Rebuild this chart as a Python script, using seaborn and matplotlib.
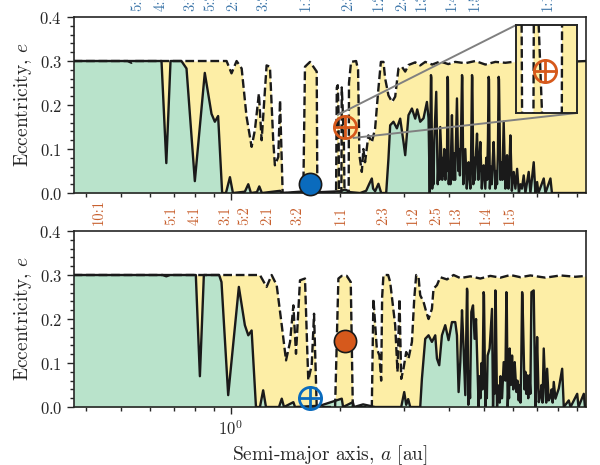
import numpy as np
import matplotlib
matplotlib.use("Agg")
import matplotlib.pyplot as plt
import seaborn as sns
from matplotlib.ticker import MultipleLocator, NullLocator
from mpl_toolkits.axes_grid1.inset_locator import mark_inset

# planets: semi-major axis [au], eccentricity
A_INNER, E_INNER = 1.661, 0.02
A_OUTER, E_OUTER = 2.063, 0.15

# mean-motion resonances (period ratio p:q)
RESONANCES = ["10:1", "5:1", "4:1", "3:1", "5:2", "2:1", "3:2", "1:1",
              "2:3", "1:2", "2:5", "1:3", "1:4", "1:5", "1:10"]

# stability maps, (a [au], e) -- solid: stable limit, dashed: upper limit
TOP_SOLID = [
    (0.369, .300), (0.645, .300), (0.665, .068), (0.683, .300), (0.732, .300),
    (0.756, .283), (0.797, .027), (0.849, .273), (0.886, .180), (0.905, .162),
    (0.924, .175), (0.948, 0), (0.971, 0), (0.996, .036), (1.015, 0),
    (1.095, .003), (1.119, .020), (1.138, 0), (1.182, .002), (1.200, .015),
    (1.220, 0), (1.369, .005), (1.386, 0), (1.554, .003), (1.765, .002),
    (2.004, .004), (2.069, .008), (2.136, .002), (2.276, 0), (2.365, .005),
    (2.410, .020), (2.452, .033), (2.472, .010), (2.504, .004), (2.557, .021),
    (2.602, 0), (2.686, 0), (2.725, .078), (2.755, .154), (2.813, .162),
    (2.875, .147), (2.936, .169), (2.998, .116), (3.031, .086), (3.095, .177),
    (3.163, .192), (3.230, .169), (3.271, .190), (3.334, .162), (3.405, .170),
    (3.479, .207), (3.515, .170), (3.542, 0), (3.569, .268), (3.578, .262),
    (3.598, .010), (3.615, .060), (3.628, .020), (3.645, .120), (3.691, .230),
    (3.726, .020), (3.745, .070), (3.765, .030), (3.786, .150), (3.834, .030),
    (3.855, .080), (3.870, .040), (3.884, .100), (3.910, .030), (3.930, .090),
    (3.950, .050), (3.966, .264), (3.975, .258), (3.996, .020), (4.020, .070),
    (4.040, .020), (4.060, .110), (4.078, .177), (4.112, .030), (4.140, .090),
    (4.160, .030), (4.185, .120), (4.210, .215), (4.245, .050), (4.270, .100),
    (4.290, .040), (4.320, .130), (4.347, .268), (4.357, .262), (4.383, .020),
    (4.410, .060), (4.439, .100), (4.481, .010), (4.505, .040), (4.533, .070),
    (4.583, .010), (4.600, .050), (4.632, .268), (4.642, .262), (4.671, .020),
    (4.700, .080), (4.720, .030), (4.750, .090), (4.782, .135), (4.822, .030),
    (4.850, .060), (4.883, .116), (4.930, .010), (4.955, .040), (4.987, .063),
    (5.041, .010), (5.070, .080), (5.100, .030), (5.125, .120), (5.148, .264),
    (5.160, .258), (5.187, .010), (5.220, .060), (5.250, .020), (5.280, .070),
    (5.314, .116), (5.372, .010), (5.400, .050), (5.430, .020), (5.460, .090),
    (5.486, .264), (5.498, .258), (5.546, .030), (5.580, .070), (5.620, .030),
    (5.664, .162), (5.725, .010), (5.755, .040), (5.787, .086), (5.835, .010),
    (5.870, .050), (5.910, .131), (5.966, .005), (6.000, .030), (6.036, .048),
    (6.101, .010), (6.130, .030), (6.168, .055), (6.239, 0), (6.300, .020),
    (6.360, .010), (6.432, .040), (6.501, 0), (6.639, .048), (6.712, 0),
    (6.854, .070), (6.928, 0), (7.004, .025), (7.062, 0), (7.304, .033),
    (7.383, 0), (7.622, .033), (7.694, 0), (9.58, 0),
]
TOP_DASHED = [
    (0.369, .300), (0.520, .300), (0.533, .296), (0.544, .300), (0.975, .300),
    (1.006, .272), (1.039, .300), (1.073, .283), (1.107, .173), (1.143, .105),
    (1.167, .143), (1.197, .226), (1.218, .120), (1.257, .290), (1.284, .287),
    (1.311, .120), (1.325, .063), (1.354, .082), (1.369, .211), (1.392, 0),
    (1.587, 0), (1.604, .287), (1.656, .298), (1.728, .276), (1.735, 0),
    (1.954, 0), (1.963, .240), (1.975, .245), (1.985, .180), (1.990, 0),
    (2.021, 0), (2.026, .240), (2.036, .200), (2.053, .120), (2.062, 0),
    (2.117, 0), (2.121, .250), (2.149, .298), (2.219, .300), (2.247, .280),
    (2.266, .086), (2.301, .048), (2.324, .100), (2.349, .070), (2.399, .131),
    (2.452, .115), (2.504, .147), (2.552, .230), (2.597, .298), (2.640, .298),
    (2.669, .260), (2.725, .222), (2.788, .207), (2.844, .219), (2.904, .283),
    (2.968, .287), (3.031, .276), (3.095, .291), (3.230, .297), (3.334, .290),
    (3.442, .298), (3.598, .292), (3.786, .299), (3.984, .293), (4.165, .298),
    (4.439, .295), (4.730, .300), (5.041, .292), (5.372, .298), (5.725, .296),
    (6.298, .300), (6.928, .297), (7.622, .300), (8.385, .298), (9.58, .300),
]
BOT_SOLID = [
    (0.369, .300), (0.802, .300), (0.823, .070), (0.844, .300), (0.930, .300),
    (0.944, .284), (0.985, .027), (1.054, .273), (1.095, .186), (1.119, .163),
    (1.143, .174), (1.175, 0), (1.205, 0), (1.230, .038), (1.252, 0),
    (1.360, 0), (1.384, .019), (1.404, 0), (1.490, .011), (1.506, 0),
    (1.765, .003), (2.026, .019), (2.043, 0), (2.173, .011), (2.191, 0),
    (2.320, .006), (2.504, 0), (2.955, 0), (3.012, .034), (3.050, .005),
    (3.089, .018), (3.129, 0), (3.334, 0), (3.370, .064), (3.442, .155),
    (3.515, .163), (3.591, .148), (3.668, .163), (3.708, .110), (3.762, .095),
    (3.827, .163), (3.908, .186), (3.991, .152), (4.078, .193), (4.165, .193),
    (4.210, .163), (4.254, .034), (4.300, .102), (4.347, .220), (4.383, .150),
    (4.439, .027), (4.487, .269), (4.497, .262), (4.525, .005), (4.550, .080),
    (4.575, .020), (4.595, .120), (4.612, .216), (4.662, .231), (4.709, .155),
    (4.752, .200), (4.831, 0), (4.860, .070), (4.890, .020), (4.920, .100),
    (4.950, .040), (4.987, .261), (4.998, .255), (5.041, 0), (5.070, .060),
    (5.090, .020), (5.115, .117), (5.180, .133), (5.259, .223), (5.294, 0),
    (5.320, .080), (5.345, .030), (5.372, .265), (5.384, .258), (5.430, 0),
    (5.455, .030), (5.486, .049), (5.520, .010), (5.550, .070), (5.580, .020),
    (5.606, .020), (5.664, .102), (5.725, .060), (5.762, .261), (5.774, .255),
    (5.810, 0), (5.840, .050), (5.860, .020), (5.884, .133), (5.930, .050),
    (5.974, .117), (6.020, .040), (6.050, .080), (6.074, .102), (6.140, .034),
    (6.180, .060), (6.231, .015), (6.270, .050), (6.300, .010), (6.330, .090),
    (6.367, .261), (6.380, .255), (6.432, .117), (6.465, .040), (6.501, .080),
    (6.535, .030), (6.572, .072), (6.620, .020), (6.669, .072), (6.710, .030),
    (6.755, .261), (6.854, .265), (6.928, 0), (6.960, .050), (7.004, .159),
    (7.076, .011), (7.152, .026), (7.200, .050), (7.250, .010), (7.304, .133),
    (7.383, .034), (7.420, .010), (7.463, .087), (7.539, .015), (7.622, .023),
    (7.680, .040), (7.730, .010), (7.784, .057), (7.868, .019), (7.950, .030),
    (8.036, .042), (8.211, .087), (8.295, 0), (8.563, .015), (8.657, 0),
    (9.034, .030), (9.108, 0), (9.419, .030), (9.490, 0), (9.58, 0),
]
BOT_DASHED = [
    (0.369, .300), (0.650, .300), (0.665, .297), (0.680, .300), (1.205, .300),
    (1.257, .273), (1.298, .300), (1.340, .277), (1.384, .186), (1.422, .106),
    (1.459, .148), (1.490, .231), (1.515, .121), (1.554, .288), (1.604, .292),
    (1.628, .125), (1.638, .061), (1.674, .095), (1.699, .212), (1.728, 0),
    (1.942, 0), (1.983, .292), (2.026, .298), (2.091, .298), (2.145, .284),
    (2.173, 0), (2.452, 0), (2.477, .246), (2.531, .133), (2.573, .117),
    (2.602, .060), (2.618, .250), (2.640, .300), (2.720, .300), (2.755, .284),
    (2.844, .186), (2.886, .080), (2.923, .246), (2.955, .064), (2.998, .087),
    (3.050, .125), (3.095, .110), (3.163, .148), (3.210, .246), (3.250, .300),
    (3.299, .295), (3.334, .254), (3.405, .239), (3.464, .216), (3.515, .200),
    (3.591, .223), (3.628, .269), (3.708, .277), (3.786, .295), (3.951, .290),
    (4.120, .300), (4.300, .293), (4.583, .297), (4.883, .292), (5.204, .298),
    (5.546, .294), (5.910, .300), (6.298, .295), (6.712, .299), (7.383, .294),
    (8.123, .299), (8.936, .296), (9.58, .298),
]

GREEN = "#b9e3cb"
YELLOW = "#fdeea6"
BLUE = "#0a6bbd"
ORANGE = "#d6591c"
BLUE_TXT = "#3a74a8"
ORANGE_TXT = "#c8602e"
XLIM = (0.37, 9.55)

sns.set_theme(style="ticks")
plt.rcParams["font.family"] = ["serif"]
plt.rcParams["font.serif"] = ["cmr10", "DejaVu Serif"]
plt.rcParams["mathtext.fontset"] = "cm"
plt.rcParams["axes.formatter.use_mathtext"] = True
plt.rcParams["axes.unicode_minus"] = False
plt.rcParams["axes.linewidth"] = 1.2


def draw_map(ax, solid, dashed):
    sa, se = np.array(solid).T
    da, de = np.array(dashed).T
    ax.fill_between(da, 0, de, color=YELLOW, lw=0, zorder=1)
    ax.fill_between(sa, 0, se, color=GREEN, lw=0, zorder=2)
    sns.lineplot(x=da, y=de, ax=ax, color="k", lw=1.7, linestyle="--",
                 estimator=None, sort=False, zorder=3)
    sns.lineplot(x=sa, y=se, ax=ax, color="k", lw=1.7,
                 estimator=None, sort=False, zorder=4)


def planet(ax, a, e, color, filled):
    if filled:
        ax.plot([a], [e], "o", ms=16, mfc=color, mec="k", mew=1.2,
                zorder=10, clip_on=False)
    else:
        ax.plot([a], [e], "o", ms=16, mfc="none", mec=color, mew=2,
                zorder=10, clip_on=False)
        ax.plot([a], [e], "+", ms=16, mec=color, mew=2, zorder=10,
                clip_on=False)


def resonance_labels(ax, a_planet, color):
    for lbl in RESONANCES:
        p, q = (int(v) for v in lbl.split(":"))
        a_res = a_planet * (q / p) ** (2 / 3)
        if not XLIM[0] <= a_res <= XLIM[1]:
            continue
        ax.annotate(lbl, xy=(a_res, 1), xycoords=("data", "axes fraction"),
                    xytext=(-3, 4), textcoords="offset points", rotation=90,
                    ha="center", va="bottom", color=color, fontsize=10.5,
                    annotation_clip=False)


def style_axes(ax):
    ax.set_xscale("log")
    ax.set_xlim(XLIM)
    ax.set_ylim(0, 0.4)
    ax.yaxis.set_major_locator(MultipleLocator(0.1))
    ax.yaxis.set_minor_locator(MultipleLocator(0.02))
    ax.tick_params(which="both", direction="out", top=False, right=False,
                   width=1.0, labelsize=12)
    ax.tick_params(which="major", length=5)
    ax.tick_params(which="minor", length=3)
    ax.set_ylabel("Eccentricity, $e$", fontsize=14)
    for sp in ax.spines.values():
        sp.set_visible(True)


fig = plt.figure(figsize=(6, 4.65), dpi=100)
ax_top = fig.add_axes([0.1233, 0.5849, 0.8533, 0.3785])
ax_bot = fig.add_axes([0.1233, 0.1247, 0.8533, 0.3785])

# top panel: map around the inner planet
draw_map(ax_top, TOP_SOLID, TOP_DASHED)
style_axes(ax_top)
ax_top.set_xticklabels([], minor=True)
ax_top.set_xticklabels([])
ax_top.set_xlabel("")
planet(ax_top, A_INNER, E_INNER, BLUE, True)
planet(ax_top, A_OUTER, E_OUTER, ORANGE, False)
resonance_labels(ax_top, A_INNER, BLUE_TXT)

# bottom panel: map around the outer planet
draw_map(ax_bot, BOT_SOLID, BOT_DASHED)
style_axes(ax_bot)
ax_bot.set_xlabel("Semi-major axis, $a$ [au]", fontsize=14)
planet(ax_bot, A_OUTER, E_OUTER, ORANGE, True)
planet(ax_bot, A_INNER, E_INNER, BLUE, False)
resonance_labels(ax_bot, A_OUTER, ORANGE_TXT)

# zoom on the outer planet in the top map
axins = fig.add_axes([0.86, 0.757, 0.1017, 0.189])
draw_map(axins, TOP_SOLID, TOP_DASHED)
axins.set_xscale("log")
axins.set_xlim(1.967, 2.172)
axins.set_ylim(0.125, 0.177)
axins.set_xticks([])
axins.set_yticks([])
axins.xaxis.set_minor_locator(NullLocator())
axins.yaxis.set_minor_locator(NullLocator())
axins.set_xlabel("")
axins.set_ylabel("")
for sp in axins.spines.values():
    sp.set_linewidth(1.4)
planet(axins, A_OUTER, E_OUTER, ORANGE, False)
box, c1, c2 = mark_inset(ax_top, axins, loc1=2, loc2=4, fc="none",
                         ec="0.5", lw=1.4)
box.set_visible(False)

fig.savefig("out.png", dpi=100)
